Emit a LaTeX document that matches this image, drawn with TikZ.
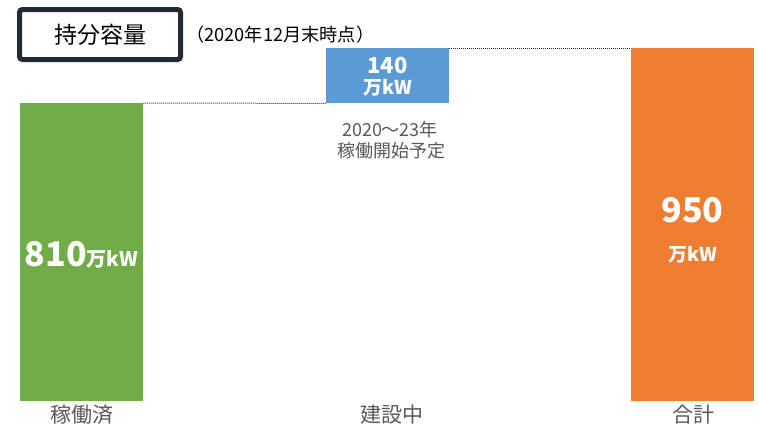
\documentclass[tikz,border=0pt]{standalone}
\usepackage{fontspec}
\setmainfont{Noto Sans CJK JP}
\definecolor{barG}{HTML}{70AD47}
\definecolor{barB}{HTML}{5B9BD5}
\definecolor{barO}{HTML}{ED7D31}
\definecolor{txtG}{HTML}{595959}
\definecolor{frameC}{HTML}{222A35}
\definecolor{dotC}{HTML}{262626}
\newcommand{\fs}[1]{\fontsize{#1}{#1}\selectfont}
\begin{document}
\begin{tikzpicture}[x=1pt,y=-1pt,
  bar/.style={draw=none, inner sep=0pt, anchor=north west},
  val/.style={text=white, font=\bfseries, inner sep=0pt},
  cat/.style={text=txtG, inner sep=0pt, font=\fs{21}},
  conn/.style={draw=dotC, line width=1pt, dash pattern=on 1pt off 1pt}]
\useasboundingbox (0,0) rectangle (759,434);
% bars
\node[bar, fill=barG, minimum width=123pt, minimum height=298pt] (g) at (20,103) {};
\node[bar, fill=barB, minimum width=123pt, minimum height=55pt] (b) at (326,48) {};
\node[bar, fill=barO, minimum width=123pt, minimum height=353pt] (o) at (631,48) {};
% connectors
\draw[conn] (g.north east) -- (b.south west);
\draw[conn] (b.north east) -- (o.north west);
% values
\node[val] (gv) at (81.5,255) {\fs{34}810\fs{20}万kW};
\node[val, font=\bfseries\fs{22}] (bv1) at (387.5,66) {140};
\node[val, font=\bfseries\fs{19}] (bv2) at (387.5,88) {万kW};
\node[val, font=\bfseries\fs{34}] (ov1) at (692.5,210) {950};
\node[val, font=\bfseries\fs{19}] (ov2) at (692.5,255) {万kW};
% sub text
\node[text=txtG, inner sep=0pt, font=\fs{18}] (bs1) at (390,130) {2020～23年};
\node[text=txtG, inner sep=0pt, font=\fs{18}] (bs2) at (391,151) {稼働開始予定};
% categories
\node[cat] (c1) at (82,415) {稼働済};
\node[cat] (c2) at (392,415) {建設中};
\node[cat] (c3) at (693,415) {合計};
% title
\node[draw=frameC, line width=5pt, rounded corners=3pt, minimum width=161pt, minimum height=50pt, inner sep=0pt, font=\fs{23}] (t) at (100,34.5) {持分容量};
\node[anchor=west, inner sep=0pt, font=\fs{18.2}] (ts) at (186,35) {（2020年12月末時点）};
\end{tikzpicture}
\end{document}
